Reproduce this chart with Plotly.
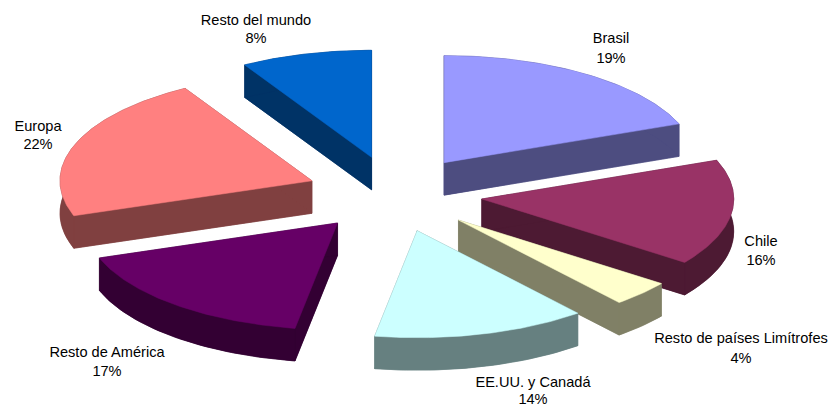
import math
import plotly.graph_objects as go

categories = ["Brasil", "Chile", "Resto de países Limítrofes", "EE.UU. y Canadá",
              "Resto de América", "Europa", "Resto del mundo"]
shares = [19.1, 16.0, 3.9, 13.7, 17.0, 21.9, 8.4]
top_colors = ["#9999FF", "#993366", "#FFFFCC", "#CCFFFF", "#660066", "#FF8080", "#0066CC"]
side_colors = ["#4D4D80", "#4D1A33", "#808066", "#668080", "#330033", "#804040", "#003366"]
name_xy = [(611, 39.5), (761, 242.5), (741, 339.5), (533, 383), (107, 353.5), (38, 127.5), (256, 21.5)]
pct_xy = [(611, 59.5), (761, 261.5), (741, 359.5), (533, 400), (107, 372.5), (38, 145.5), (256, 39.5)]
draw_order = [6, 0, 5, 1, 2, 4, 3]

CX, CY, RX, RY, EX, EY, DEPTH = 394.5, 194, 252, 107, 88, 38, 32.5

total = sum(shares)
fig = go.Figure()


def poly(xs, ys, color):
    fig.add_trace(go.Scatter(x=xs + xs[:1], y=ys + ys[:1], mode="lines", fill="toself",
                             fillcolor=color, line=dict(color=color, width=0.5),
                             hoverinfo="skip", showlegend=False))


starts = []
acc = 0
for s in shares:
    starts.append(acc)
    acc += s

for i in draw_order:
    a0 = starts[i] / total * 2 * math.pi
    a1 = (starts[i] + shares[i]) / total * 2 * math.pi
    mid = (a0 + a1) / 2
    tx = CX + EX * math.sin(mid)
    ty = CY - EY * math.cos(mid)
    n = max(12, int(shares[i] * 5))
    angs = [a0 + (a1 - a0) * k / n for k in range(n + 1)]
    ax = [tx + RX * math.sin(a) for a in angs]
    ay = [ty - RY * math.cos(a) for a in angs]
    # cut faces
    for ex, ey in ((ax[0], ay[0]), (ax[-1], ay[-1])):
        poly([tx, ex, ex, tx], [ty, ey, ey + DEPTH, ty + DEPTH], side_colors[i])
    # bottom + outer wall
    poly([tx] + ax, [ty + DEPTH] + [y + DEPTH for y in ay], side_colors[i])
    poly(ax + ax[::-1], ay + [y + DEPTH for y in ay[::-1]], side_colors[i])
    # top
    poly([tx] + ax, [ty] + ay, top_colors[i])

fig.add_trace(go.Scatter(
    x=[p[0] for p in name_xy] + [p[0] for p in pct_xy],
    y=[p[1] for p in name_xy] + [p[1] for p in pct_xy],
    text=categories + [f"{round(s)}%" for s in shares],
    mode="text", textposition="middle center", cliponaxis=False,
    textfont=dict(family="Liberation Sans", size=14.6, color="#000000"),
    hoverinfo="skip", showlegend=False))

fig.update_layout(
    width=828, height=406, margin=dict(l=0, r=0, t=0, b=0),
    paper_bgcolor="#FFFFFF", plot_bgcolor="#FFFFFF", showlegend=False,
    xaxis=dict(range=[0, 828], visible=False, fixedrange=True),
    yaxis=dict(range=[406, 0], visible=False, fixedrange=True),
)
fig.write_html("out.html", config=dict(displayModeBar=False),
               post_script="document.body.style.margin='0';document.documentElement.style.overflow='hidden';")
